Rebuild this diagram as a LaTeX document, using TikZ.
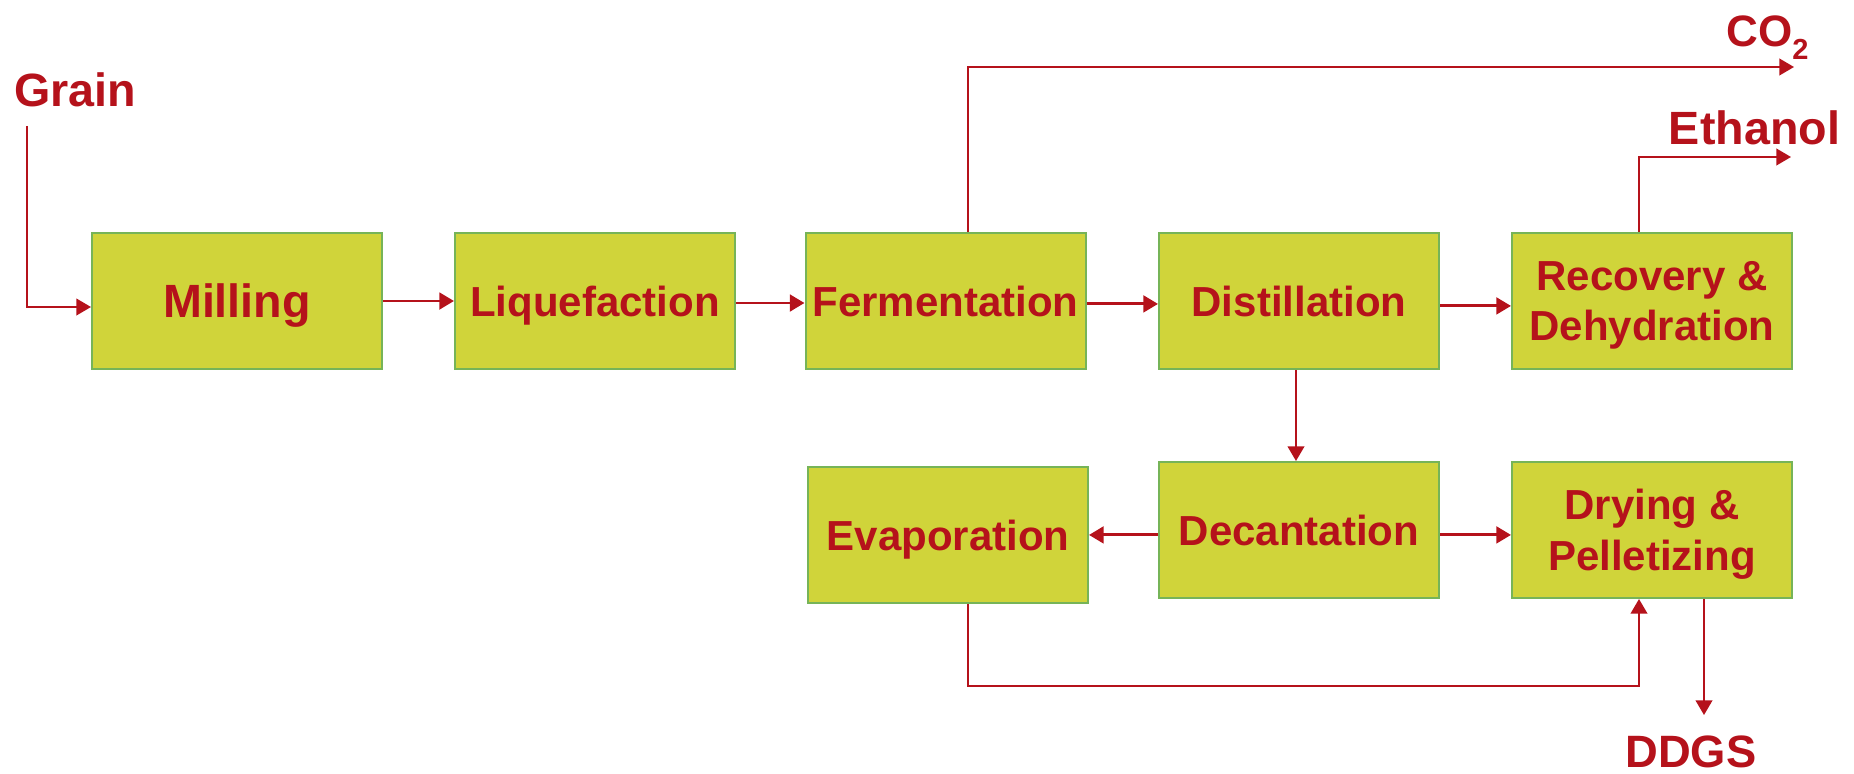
\documentclass[tikz,border=0pt]{standalone}
\usepackage{fontspec}
\setmainfont{Liberation Sans}
\usetikzlibrary{arrows.meta}
\definecolor{procfill}{RGB}{208,212,58}
\definecolor{procedge}{RGB}{118,180,88}
\definecolor{flowred}{RGB}{181,18,27}

\begin{document}
\begin{tikzpicture}[x=0.75pt,y=-0.75pt,
  stage/.style={draw=procedge, line width=1.5pt, fill=procfill,
    minimum width=210pt, minimum height=102pt, inner sep=0pt,
    align=center, text=flowred, text depth=0pt,
    font=\fontsize{31.5}{38}\selectfont\bfseries},
  oneline/.style={text height=22.6pt},
  flow/.style={draw=flowred, line width=2.2pt,
    -{Triangle[length=11pt,width=12.5pt]}},
  feed/.style={flow, line width=1.5pt},
  outlbl/.style={text=flowred, font=\fontsize{35}{42}\selectfont\bfseries,
    inner sep=0pt, anchor=base}]
\useasboundingbox (0,0) rectangle (1854,774);

% process stages
\node[stage, oneline, minimum width=217.5pt, text height=25pt,
  font=\fontsize{35}{42}\selectfont\bfseries]
  (mill) at (237,301) {Milling};
\node[stage, oneline] (liq)   at (595,301)  {Liquefaction};
\node[stage, oneline] (ferm)  at (945.5,301) {Fermentation};
\node[stage, oneline] (dist)  at (1299,301) {Distillation};
\node[stage] (rec)   at (1652,301) {Recovery \&\\Dehydration};
\node[stage, oneline] (evap)  at (948,535)  {Evaporation};
\node[stage, oneline] (dec)   at (1299,530) {Decantation};
\node[stage] (dry)   at (1652,530) {Drying \&\\Pelletizing};

% inputs and products
\node[outlbl] (grain)   at (75,107)     {Grain};
\node[outlbl, anchor=base west, font=\fontsize{33}{40}\selectfont\bfseries]
  (co2) at (1726,47) {CO\raisebox{-9.4pt}{\fontsize{21.75}{22}\selectfont 2}};
\node[outlbl] (ethanol) at (1754.5,144) {Ethanol};
\node[outlbl, font=\fontsize{34}{40}\selectfont\bfseries]
  (ddgs) at (1691,767) {DDGS};

% bend and end points of the branch lines
\coordinate (grainstart) at (27,126);
\coordinate (co2tap)     at (968,0);
\coordinate (co2end)     at (1794,67);
\coordinate (ethtap)     at (1639,0);
\coordinate (ethend)     at (1791,157);
\coordinate (feedlow)    at (0,686);
\coordinate (ddgsend)    at (1704,715);

% main train
\draw[feed] (grainstart) |- ([yshift=-4.5pt]mill.west);
\draw[flow] (mill.east) -- (liq.west);
\draw[flow] ([yshift=-1.5pt]liq.east) -- ([yshift=-1.5pt]ferm.west);
\draw[flow] ([yshift=-2.2pt]ferm.east) -- ([yshift=-2.2pt]dist.west);
\draw[flow] ([yshift=-3.7pt]dist.east) -- ([yshift=-3.7pt]rec.west);

% gas and ethanol outlets
\draw[feed] (ferm.north -| co2tap) |- (co2end);
\draw[feed] (rec.north -| ethtap) |- (ethend);

% stillage handling
\draw[feed] (dist.south -| dec.north) ++(-3,0) coordinate (dtap) -- (dtap |- dec.north);
\draw[flow] ([yshift=-3.7pt]dec.west) -- ([yshift=-3.7pt]evap.east |- dec.west);
\draw[flow] ([yshift=-3.7pt]dec.east) -- ([yshift=-3.7pt]dry.west);
\draw[feed] (evap.south -| co2tap) -- (co2tap |- feedlow) -| (dry.south -| ethtap);
\draw[feed] (dry.south -| ddgsend) -- (ddgsend);
\end{tikzpicture}
\end{document}
